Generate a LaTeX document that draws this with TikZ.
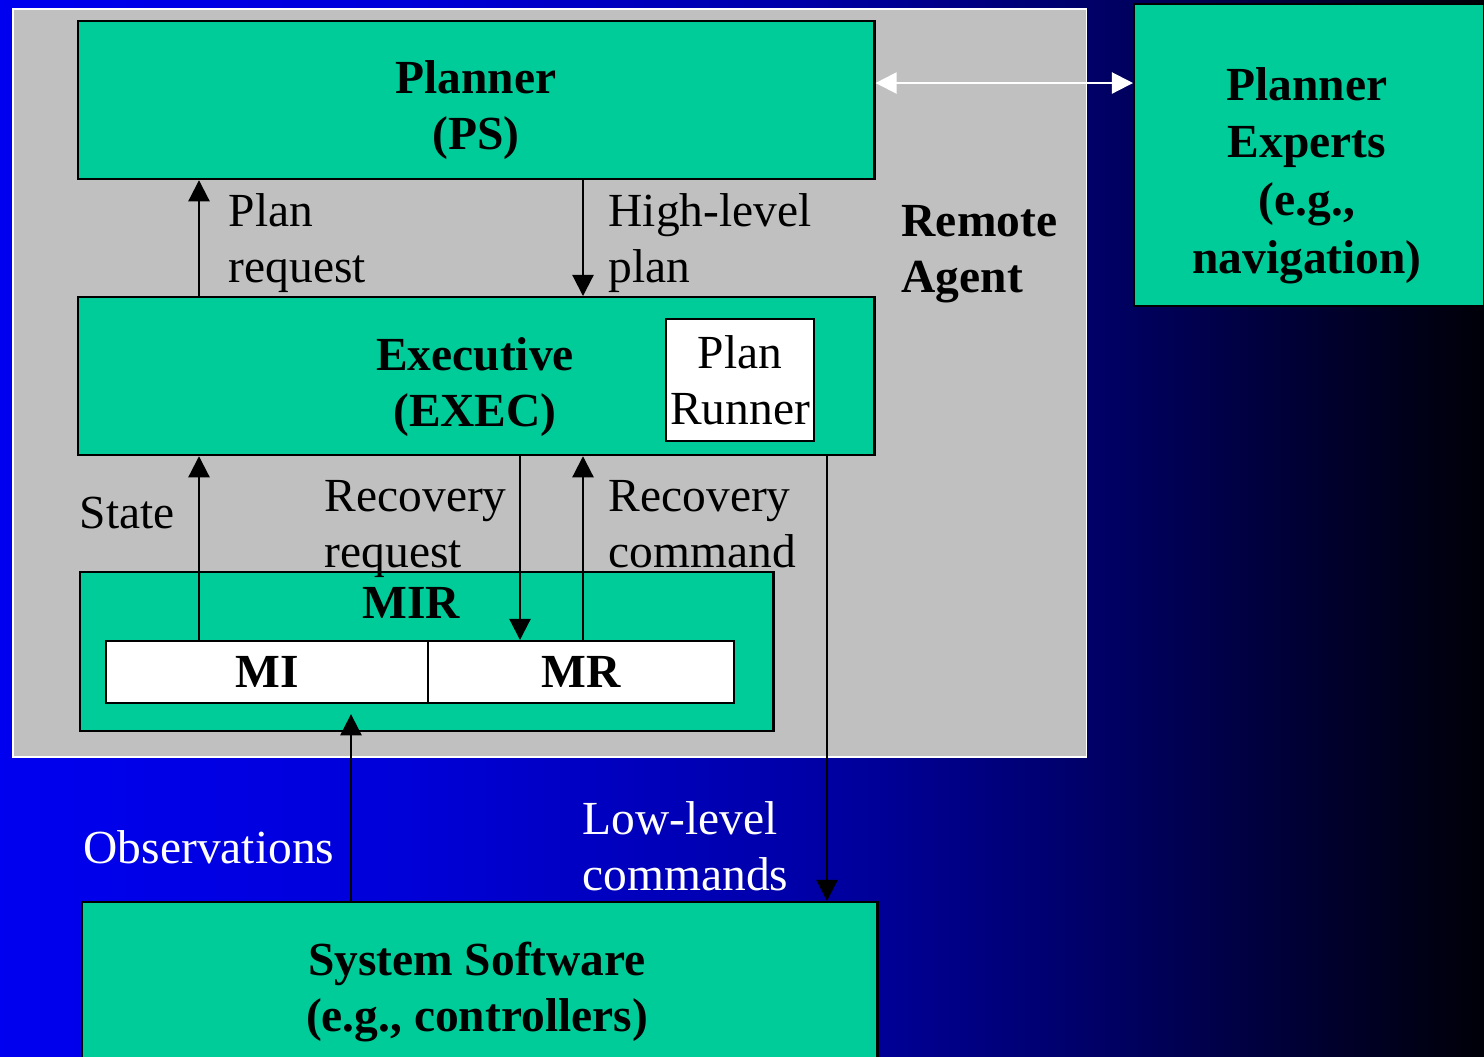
\documentclass[tikz,border=0pt]{standalone}
\usepackage{fontspec}
\setmainfont{Liberation Serif}
\usetikzlibrary{arrows.meta}
\definecolor{modgreen}{RGB}{0,204,153}
\definecolor{agentgray}{RGB}{192,192,192}
\pgfdeclarehorizontalshading{bgshade}{100bp}{rgb(0bp)=(0,0,0.94); rgb(25bp)=(0,0,0.94); rgb(38.5bp)=(0,0,0.85); rgb(52bp)=(0,0,0.66); rgb(62bp)=(0,0,0.40); rgb(75bp)=(0,0,0.03); rgb(100bp)=(0,0,0.03)}
\begin{document}
\begin{tikzpicture}[x=0.01cm,y=-0.01cm]
%node styles
\tikzstyle{module}=[rectangle,draw,line width=0.6pt,fill=modgreen,anchor=north west,inner sep=0pt]
\tikzstyle{sub}=[module,fill=white,font=\fontsize{13.5}{15.8}\selectfont\bfseries]
\tikzstyle{title}=[font=\fontsize{13.5}{15.8}\selectfont\bfseries,align=center,anchor=base,inner sep=0pt]
\tikzstyle{lbl}=[font=\fontsize{13.5}{15.8}\selectfont,align=left,anchor=base west,inner sep=0pt]
%arrow styles
\tikzstyle{flow}=[-{Triangle[length=6pt,width=6pt]},line width=0.6pt]
\tikzstyle{link}=[{Triangle[length=6pt,width=6pt]}-{Triangle[length=6pt,width=6pt]},line width=0.6pt,white]
%background
\useasboundingbox (0,0) rectangle (1484,1056);
\shade[shading=bgshade] (0,0) rectangle (1484,1056);
\node[module,fill=agentgray,draw=white,line width=0.5pt,minimum width=10.73cm,minimum height=7.48cm] (agent) at (12,8) {};
%placement of nodes
\node[module,minimum width=7.96cm,minimum height=1.58cm] (planner) at (77,20) {};
\node[module,minimum width=7.96cm,minimum height=1.58cm] (exec) at (77,296) {};
\node[sub,font=\fontsize{13.5}{15.8}\selectfont,align=center,minimum width=1.48cm,minimum height=1.22cm] (runner) at (665,318) {Plan\\Runner};
\node[module,minimum width=6.93cm,minimum height=1.59cm] (mir) at (79,571) {};
\node[sub,minimum width=3.22cm,minimum height=0.62cm] (mi) at (105,640) {MI};
\node[sub,minimum width=3.06cm,minimum height=0.62cm] (mr) at (427,640) {MR};
\node[module,minimum width=7.95cm,minimum height=1.65cm] (sys) at (81,901) {};
\node[module,minimum width=3.50cm,minimum height=3.02cm] (experts) at (1133,3) {};
%columns of the arrows
\coordinate (xa) at (199,0);
\coordinate (xb) at (583,0);
\coordinate (xc) at (520,0);
\coordinate (xd) at (351,0);
\coordinate (xe) at (827,0);
\coordinate (ya) at (0,83);
%placement of arrows
\draw[flow] (exec.north -| xa) -- (planner.south -| xa);
\draw[flow] (planner.south -| xb) -- (exec.north -| xb);
\draw[flow] (mi.north -| xa) -- (exec.south -| xa);
\draw[flow] (exec.south -| xc) -- (mr.north -| xc);
\draw[flow] (mr.north -| xb) -- (exec.south -| xb);
\draw[flow,shorten >=0.1cm] (sys.north -| xd) -- (mi.south -| xd);
\draw[flow] (exec.south -| xe) -- (sys.north -| xe);
\draw[link] (planner.east |- ya) -- (experts.west |- ya);
%texts (at the baseline of their last line)
\node[title] (plannertxt) at (476,149) {Planner\\(PS)};
\node[title] (exectxt) at (475,426) {Executive\\(EXEC)};
\node[title] (mirtxt) at (411,618) {MIR};
\node[title] (systxt) at (477,1031) {System Software\\(e.g., controllers)};
\node[title,font=\fontsize{13.5}{16.4}\selectfont\bfseries] (experttxt) at (1307,273) {Planner\\Experts\\(e.g.,\\navigation)};
\node[title,align=left,anchor=base west] (agenttxt) at (901,292) {Remote\\Agent};
\node[lbl] (preq) at (228,282) {Plan\\request};
\node[lbl] (hlplan) at (608,282) {High-level\\plan};
\node[lbl] (state) at (79,528) {State};
\node[lbl] (rreq) at (324,567) {Recovery\\request};
\node[lbl] (rcmd) at (608,567) {Recovery\\command};
\node[lbl,text=white] (obs) at (83,863) {Observations};
\node[lbl,text=white] (llcmd) at (582,890) {Low-level\\commands};
\end{tikzpicture}
\end{document}
